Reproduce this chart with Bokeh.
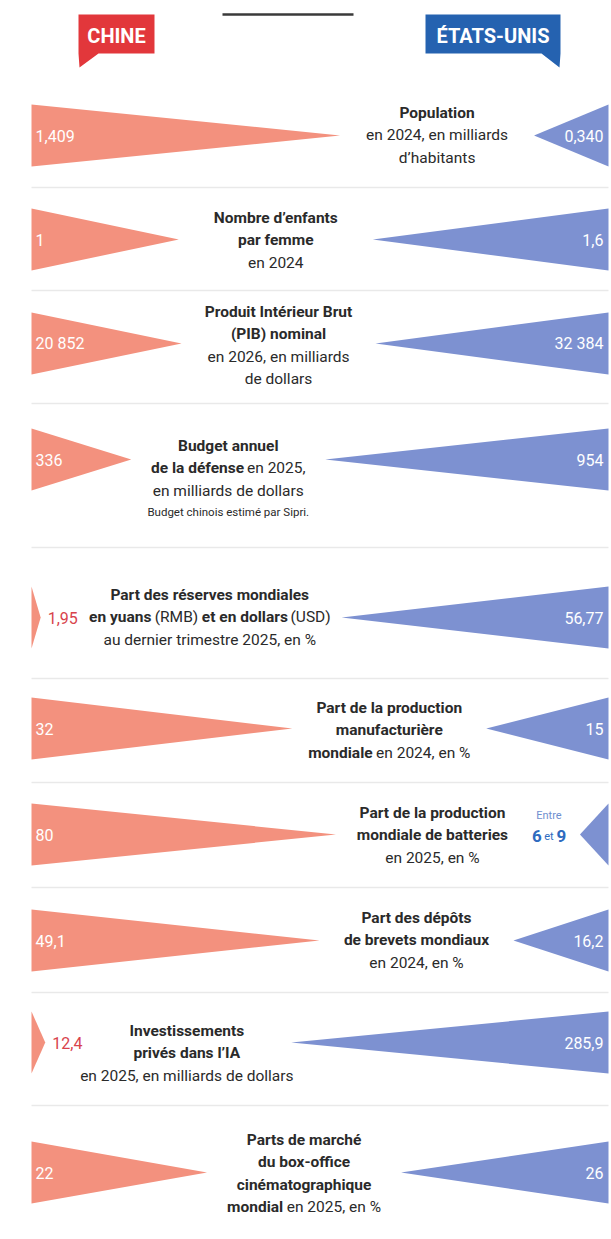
import unicodedata
from bokeh.plotting import figure
from bokeh.models import Range1d
from bokeh.embed import file_html
from bokeh.resources import INLINE
from bokeh.core.properties import value

# ---------------- data ----------------
indicators = [
    "Population", "Nombre d'enfants par femme", "Produit Intérieur Brut (PIB) nominal",
    "Budget annuel de la défense", "Part des réserves mondiales",
    "Part de la production manufacturière mondiale",
    "Part de la production mondiale de batteries", "Part des dépôts de brevets mondiaux",
    "Investissements privés dans l'IA",
    "Parts de marché du box-office cinématographique mondial",
]
china_values = [1.409, 1, 20852, 336, 1.95, 32, 80, 49.1, 12.4, 22]
us_values = [0.340, 1.6, 32384, 954, 56.77, 15, 7.5, 16.2, 285.9, 26]
china_labels = ["1,409", "1", "20 852", "336", "1,95", "32", "80", "49,1", "12,4", "22"]
us_labels = ["0,340", "1,6", "32 384", "954", "56,77", "15", "Entre 6 et 9", "16,2", "285,9", "26"]
country_names = ["CHINE", "ÉTATS-UNIS"]

# descriptive lines: (text, style) with style b=bold, r=regular, s=small
row_texts = [
    [[("Population", "b")], [("en 2024, en milliards", "r")], [("d’habitants", "r")]],
    [[("Nombre d’enfants", "b")], [("par femme", "b")], [("en 2024", "r")]],
    [[("Produit Intérieur Brut", "b")], [("(PIB) nominal", "b")],
     [("en 2026, en milliards", "r")], [("de dollars", "r")]],
    [[("Budget annuel", "b")], [("de la défense", "b"), (" en 2025,", "r")],
     [("en milliards de dollars", "r")], [("Budget chinois estimé par Sipri.", "s")]],
    [[("Part des réserves mondiales", "b")],
     [("en yuans", "b"), (" (RMB) ", "r"), ("et en dollars", "b"), (" (USD)", "r")],
     [("au dernier trimestre 2025, en %", "r")]],
    [[("Part de la production", "b")], [("manufacturière", "b")],
     [("mondiale", "b"), (" en 2024, en %", "r")]],
    [[("Part de la production", "b")], [("mondiale de batteries", "b")], [("en 2025, en %", "r")]],
    [[("Part des dépôts", "b")], [("de brevets mondiaux", "b")], [("en 2024, en %", "r")]],
    [[("Investissements", "b")], [("privés dans l’IA", "b")],
     [("en 2025, en milliards de dollars", "r")]],
    [[("Parts de marché", "b")], [("du box-office", "b")], [("cinématographique", "b")],
     [("mondial", "b"), (" en 2025, en %", "r")]],
]

# ---------------- layout / style ----------------
W, H = 611, 1239
X_LEFT, X_RIGHT = 31, 608
HALF = 31
row_y = [135, 239, 343, 459, 617, 728, 834, 940, 1042, 1172]
spans = [383, 383, 383, 383, 276, 383, 333, 383, 331, 383]
text_dy = [-23, -22, -32, -14, -23, -21, -22, -23, -12, -33]
sep_y = [187, 290, 403, 547, 678, 782, 887, 992, 1105]
LH = 22.5
FONT = "Roboto"
RED = "#f3917e"
BLUE = "#7d91d1"
RED_DARK = "#e2373b"
BLUE_DARK = "#2562b0"
TXT = "#2a2a2a"
SIZES = {"b": 15.5, "r": 15.5, "s": 11.5}
VAL = 16

_reg_chars = " !%'’(),-.0123456789ABCDEFGHIJKLMNOPQRSTUVWXYZabcdefghijklmnopqrstuvwxyz"
_reg_w = [250, 270, 730, 170, 200, 340, 340, 200, 280, 260] + [561] * 10 + \
    [650, 620, 650, 655, 570, 555, 680, 715, 275, 550, 625, 540, 875, 715, 690, 630, 690, 615, 590, 600, 650, 640, 890, 630, 600, 600] + \
    [545, 560, 525, 565, 530, 345, 560, 550, 245, 240, 505, 245, 875, 550, 570, 560, 565, 340, 515, 325, 550, 485, 750, 495, 475, 495]
_bold_w = [245, 270, 740, 150, 200, 345, 345, 215, 275, 270] + [561] * 10 + \
    [665, 625, 650, 655, 570, 555, 680, 715, 285, 550, 640, 540, 880, 715, 690, 630, 690, 625, 600, 610, 655, 650, 880, 640, 620, 600] + \
    [545, 560, 520, 560, 530, 350, 565, 555, 250, 245, 515, 250, 870, 555, 570, 560, 565, 345, 515, 330, 555, 500, 750, 505, 490, 500]
REG = dict(zip(_reg_chars, _reg_w))
BOLD = dict(zip(_reg_chars, _bold_w))


def text_width(s, size, bold):
    table = BOLD if bold else REG
    tot = 0
    for ch in s:
        base = unicodedata.normalize("NFD", ch)[0]
        tot += table.get(ch, table.get(base, 556))
    return tot / 1000.0 * size


groups = {}


def add_text(x, y, txt, size, color, bold, align):
    key = (size, color, bold, align)
    g = groups.setdefault(key, {"x": [], "y": [], "text": []})
    g["x"].append(x)
    g["y"].append(y)
    g["text"].append(txt)


def add_rich_line(cx, y, segs, color):
    """segs: list of (text, size, bold, dy). Leading/trailing spaces become gaps."""
    total = sum(text_width(t, s, b) for t, s, b, _ in segs)
    x = cx - total / 2
    for t, s, b, dy in segs:
        core = t.strip()
        lead = t[:len(t) - len(t.lstrip())]
        x_core = x + text_width(lead, s, b)
        add_text(x_core, y + dy, core, s, color, b, "left")
        x += text_width(t, s, b)


p = figure(width=W, height=H, x_range=Range1d(0, W), y_range=Range1d(H, 0),
           toolbar_location=None, output_backend="svg", min_border=0,
           x_axis_location=None, y_axis_location=None)
p.grid.visible = False
p.outline_line_color = None
p.background_fill_color = "white"
p.border_fill_color = "white"

# header
p.segment(x0=[222], y0=[14], x1=[353], y1=[14], line_color="#3a3a3a", line_width=2.5)
p.patches(xs=[[78, 154, 154, 98, 79, 78], [425, 560, 560, 559, 541, 425]],
          ys=[[14, 14, 53, 53, 67, 53], [14, 14, 53, 67, 53, 53]],
          fill_color=[RED_DARK, BLUE_DARK], line_color=None)
add_text(116, 35, country_names[0], 20, "white", True, "center")
add_text(492.5, 35, country_names[1], 20, "white", True, "center")

# separators
p.segment(x0=[X_LEFT] * len(sep_y), y0=sep_y, x1=[X_RIGHT] * len(sep_y), y1=sep_y,
          line_color="#e9e9e9", line_width=1.5)

red_xs, red_ys, blue_xs, blue_ys = [], [], [], []
for i in range(len(indicators)):
    cy = row_y[i]
    tot = china_values[i] + us_values[i]
    lc = china_values[i] / tot * spans[i]
    lu = us_values[i] / tot * spans[i]
    tip_c = X_LEFT + lc
    tip_u = X_RIGHT - lu
    red_xs.append([X_LEFT, tip_c, X_LEFT])
    red_ys.append([cy - HALF, cy, cy + HALF])
    blue_xs.append([X_RIGHT, tip_u, X_RIGHT])
    blue_ys.append([cy - HALF, cy, cy + HALF])

    left_bound, right_bound = tip_c, tip_u
    # china value label
    if lc > 40:
        add_text(X_LEFT + 4, cy, china_labels[i], VAL, "white", False, "left")
    else:
        lx = tip_c + 7
        add_text(lx, cy, china_labels[i], VAL, "#d8434c", False, "left")
        left_bound = lx + text_width(china_labels[i], VAL, False)
    # US value label
    if lu > 40:
        add_text(X_RIGHT - 5, cy, us_labels[i], VAL, "white", False, "right")
    else:
        cx = tip_u - 31
        parts = us_labels[i].split(" ")  # Entre 6 et 9
        add_text(cx, cy - 19, parts[0], 11, "#6f8fcf", False, "center")
        add_rich_line(cx, cy + 1, [(parts[1], 17, True, 0),
                                   (" " + parts[2] + " ", 11, False, 1),
                                   (parts[3], 17, True, 0)], "#2e6bbf")
        right_bound = cx - 20
    # descriptive text
    tcx = (left_bound + right_bound) / 2
    for j, line in enumerate(row_texts[i]):
        ly = cy + text_dy[i] + j * LH
        if line[0][1] == "s":
            ly -= 1.5
        if len(line) == 1:
            t, st = line[0]
            add_text(tcx, ly, t, SIZES[st], TXT, st == "b", "center")
        else:
            add_rich_line(tcx, ly, [(t, SIZES[st], st == "b", 0) for t, st in line], TXT)

p.patches(xs=red_xs, ys=red_ys, fill_color=RED, line_color=None)
p.patches(xs=blue_xs, ys=blue_ys, fill_color=BLUE, line_color=None)

for (size, color, bold, align), g in groups.items():
    p.text(x=g["x"], y=g["y"], text=g["text"], text_font=value(FONT),
           text_font_size=f"{size}px", text_color=color,
           text_font_style="bold" if bold else "normal",
           text_align=align, text_baseline="middle")

open("out.html", "w").write(file_html(p, INLINE))
